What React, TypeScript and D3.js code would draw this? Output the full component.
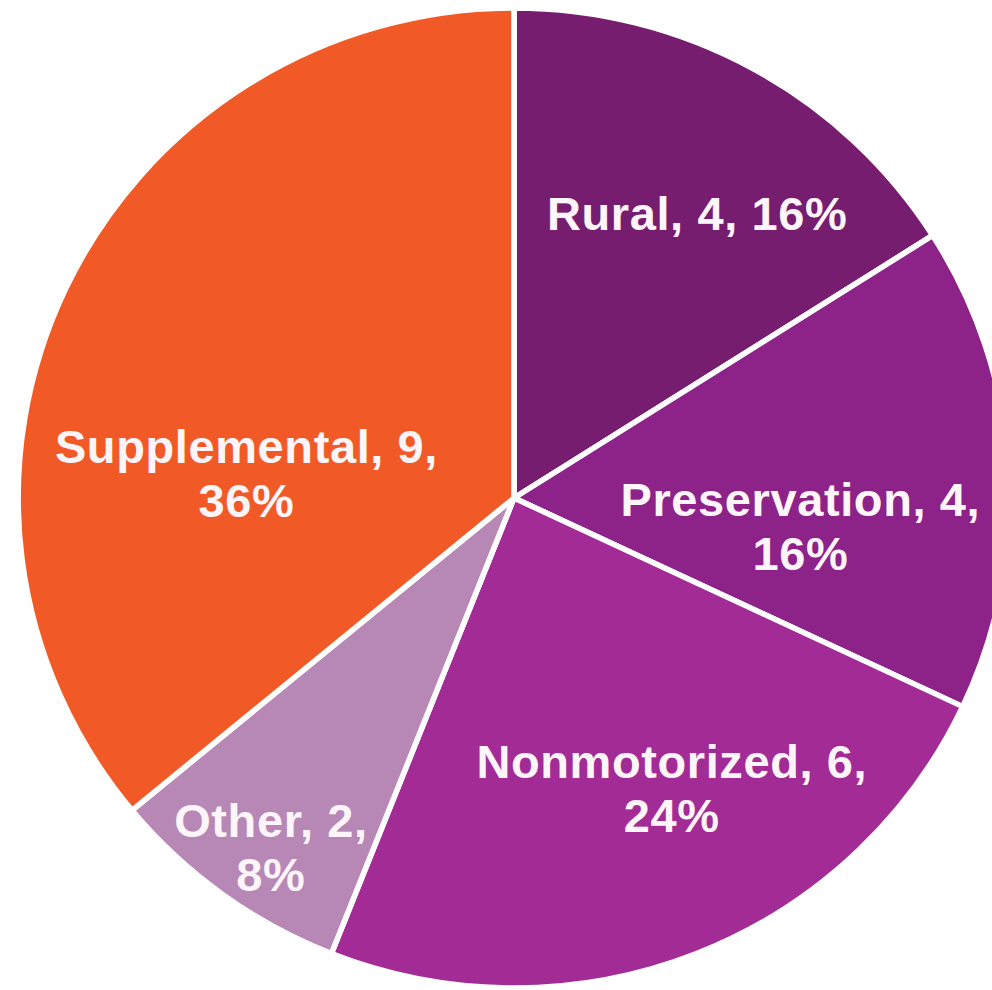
import React from "react";
import * as d3 from "d3";

const categories = ["Rural", "Preservation", "Nonmotorized", "Other", "Supplemental"];
const values = [4, 4, 6, 2, 9];
const colors = ["#771D6F", "#8D2288", "#A22B96", "#B787B5", "#F15A27"];
// label lines break after the count when the label is wrapped
const wrapped = [false, true, true, true, true];
// small nudges of each label from the arc centroid (px)
const labelNudges: [number, number][] = [
  [29, -5],
  [-33, 48],
  [40, -7],
  [-55, 90],
  [22, 111],
];

const W = 992;
const H = 990;
const CX = 514;
const CY = 498;
const R = 490;
const FONT = 47;
const LINE = 54;

export default function App() {
  const total = d3.sum(values);
  const data = categories.map((c, i) => ({ c, v: values[i], i }));
  const pie = d3
    .pie<{ c: string; v: number; i: number }>()
    .value((d) => d.v)
    .sort(null);
  const arcs = pie(data);
  const arc = d3
    .arc<d3.PieArcDatum<{ c: string; v: number; i: number }>>()
    .innerRadius(0)
    .outerRadius(R);
  const labelArc = d3
    .arc<d3.PieArcDatum<{ c: string; v: number; i: number }>>()
    .innerRadius(320)
    .outerRadius(320);

  return (
    <svg
      width={W}
      height={H}
      style={{ position: "absolute", left: 0, top: 0, background: "#fff" }}
    >
      <g transform={`translate(${CX},${CY}) scale(1.012,1)`}>
        {arcs.map((a) => (
          <path
            key={a.data.c}
            d={arc(a) || ""}
            fill={colors[a.data.i]}
            stroke="#fff"
            strokeWidth={5.5}
            strokeLinejoin="round"
          />
        ))}
      </g>
      <g transform={`translate(${CX},${CY})`}>
        {arcs.map((a) => {
          const [x0, y0] = labelArc.centroid(a);
          const [nx, ny] = labelNudges[a.data.i];
          const x = x0 + nx;
          const y = y0 + ny;
          const pct = `${Math.round((a.data.v / total) * 100)}%`;
          const lines = wrapped[a.data.i]
            ? [`${a.data.c}, ${a.data.v},`, pct]
            : [`${a.data.c}, ${a.data.v}, ${pct}`];
          const startY = y - ((lines.length - 1) * LINE) / 2;
          return (
            <text
              key={a.data.c}
              textAnchor="middle"
              fontFamily="'Liberation Sans', Arial, sans-serif"
              fontWeight="bold"
              fontSize={FONT}
              letterSpacing={0.6}
              fill="#fdf5fa"
            >
              {lines.map((l, k) => (
                <tspan key={k} x={x} y={startY + k * LINE + FONT * 0.36}>
                  {l}
                </tspan>
              ))}
            </text>
          );
        })}
      </g>
    </svg>
  );
}
